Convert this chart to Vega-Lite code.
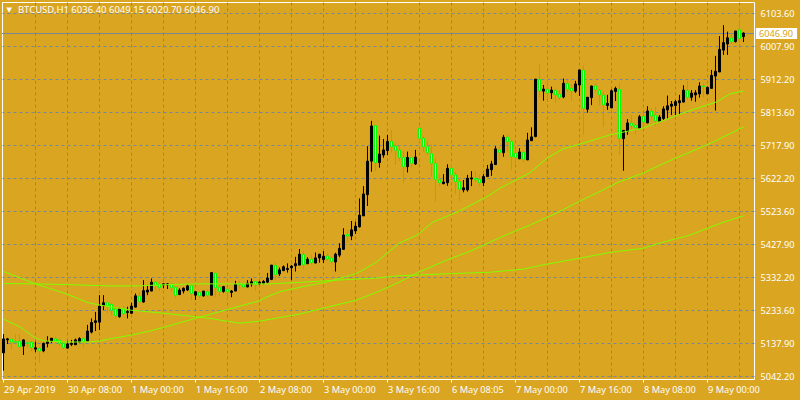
{"$schema":"https://vega.github.io/schema/vega-lite/v6.json","width":752,"height":377,"autosize":"none","padding":{"left":2,"top":2,"right":46,"bottom":21},"background":"#DAA520","view":{"stroke":"#FFFFFF","strokeWidth":1,"fill":"#DAA520"},"config":{"font":"Noto Sans"},
"datasets":{"candles":[
{"i":0,"o":5111,"h":5166,"l":5059,"c":5152},{"i":1,"o":5149,"h":5155,"l":5137,"c":5152},{"i":2,"o":5151,"h":5151,"l":5122,"c":5143},{"i":3,"o":5144,"h":5166,"l":5139,"c":5142},{"i":4,"o":5145,"h":5166,"l":5127,"c":5129},{"i":5,"o":5131,"h":5151,"l":5105,"c":5149},{"i":6,"o":5141,"h":5146,"l":5127,"c":5139},{"i":7,"o":5142,"h":5146,"l":5115,"c":5127},{"i":8,"o":5122,"h":5144,"l":5113,"c":5126},{"i":9,"o":5124,"h":5127,"l":5082,"c":5117},
{"i":10,"o":5117,"h":5141,"l":5113,"c":5139},{"i":11,"o":5139,"h":5160,"l":5127,"c":5144},{"i":12,"o":5146,"h":5154,"l":5140,"c":5154},{"i":13,"o":5152,"h":5158,"l":5142,"c":5146},{"i":14,"o":5148,"h":5151,"l":5131,"c":5139},{"i":15,"o":5139,"h":5144,"l":5122,"c":5127},{"i":16,"o":5125,"h":5146,"l":5125,"c":5137},{"i":17,"o":5136,"h":5149,"l":5131,"c":5139},{"i":18,"o":5135,"h":5153,"l":5135,"c":5149},{"i":19,"o":5143,"h":5157,"l":5141,"c":5153},
{"i":20,"o":5153,"h":5157,"l":5127,"c":5144},{"i":21,"o":5146,"h":5193,"l":5146,"c":5175},{"i":22,"o":5172,"h":5212,"l":5168,"c":5200},{"i":23,"o":5200,"h":5231,"l":5175,"c":5205},{"i":24,"o":5201,"h":5280,"l":5178,"c":5248},{"i":25,"o":5249,"h":5280,"l":5236,"c":5258},{"i":26,"o":5258,"h":5261,"l":5227,"c":5249},{"i":27,"o":5253,"h":5258,"l":5222,"c":5236},{"i":28,"o":5239,"h":5246,"l":5212,"c":5220},{"i":29,"o":5217,"h":5243,"l":5214,"c":5241},
{"i":30,"o":5240,"h":5248,"l":5222,"c":5226},{"i":31,"o":5229,"h":5246,"l":5212,"c":5232},{"i":32,"o":5227,"h":5258,"l":5227,"c":5248},{"i":33,"o":5245,"h":5285,"l":5244,"c":5278},{"i":34,"o":5277,"h":5290,"l":5258,"c":5261},{"i":35,"o":5260,"h":5324,"l":5258,"c":5293},{"i":36,"o":5289,"h":5310,"l":5280,"c":5295},{"i":37,"o":5292,"h":5329,"l":5292,"c":5318},{"i":38,"o":5318,"h":5322,"l":5295,"c":5309},{"i":39,"o":5312,"h":5318,"l":5292,"c":5302},
{"i":40,"o":5310,"h":5315,"l":5300,"c":5313},{"i":41,"o":5310,"h":5315,"l":5298,"c":5313},{"i":42,"o":5312,"h":5315,"l":5290,"c":5302},{"i":43,"o":5303,"h":5305,"l":5271,"c":5280},{"i":44,"o":5282,"h":5300,"l":5280,"c":5295},{"i":45,"o":5292,"h":5303,"l":5285,"c":5300},{"i":46,"o":5295,"h":5312,"l":5292,"c":5307},{"i":47,"o":5308,"h":5312,"l":5266,"c":5285},{"i":48,"o":5280,"h":5290,"l":5266,"c":5290},{"i":49,"o":5288,"h":5290,"l":5271,"c":5278},
{"i":50,"o":5278,"h":5292,"l":5275,"c":5292},{"i":51,"o":5290,"h":5297,"l":5274,"c":5280},{"i":52,"o":5280,"h":5347,"l":5280,"c":5346},{"i":53,"o":5344,"h":5346,"l":5275,"c":5302},{"i":54,"o":5303,"h":5315,"l":5278,"c":5291},{"i":55,"o":5291,"h":5307,"l":5287,"c":5305},{"i":56,"o":5297,"h":5300,"l":5266,"c":5290},{"i":57,"o":5288,"h":5295,"l":5274,"c":5292},{"i":58,"o":5292,"h":5322,"l":5292,"c":5311},{"i":59,"o":5313,"h":5321,"l":5300,"c":5311},
{"i":60,"o":5311,"h":5315,"l":5302,"c":5304},{"i":61,"o":5304,"h":5324,"l":5303,"c":5315},{"i":62,"o":5313,"h":5329,"l":5305,"c":5319},{"i":63,"o":5320,"h":5322,"l":5292,"c":5311},{"i":64,"o":5313,"h":5321,"l":5310,"c":5318},{"i":65,"o":5315,"h":5324,"l":5312,"c":5320},{"i":66,"o":5318,"h":5345,"l":5315,"c":5330},{"i":67,"o":5326,"h":5368,"l":5324,"c":5368},{"i":68,"o":5367,"h":5376,"l":5324,"c":5340},{"i":69,"o":5342,"h":5361,"l":5336,"c":5354},
{"i":70,"o":5352,"h":5367,"l":5350,"c":5363},{"i":71,"o":5355,"h":5373,"l":5346,"c":5358},{"i":72,"o":5360,"h":5368,"l":5324,"c":5365},{"i":73,"o":5366,"h":5392,"l":5349,"c":5372},{"i":74,"o":5368,"h":5415,"l":5368,"c":5400},{"i":75,"o":5399,"h":5410,"l":5356,"c":5369},{"i":76,"o":5372,"h":5391,"l":5371,"c":5385},{"i":77,"o":5385,"h":5397,"l":5371,"c":5375},{"i":78,"o":5374,"h":5405,"l":5373,"c":5389},{"i":79,"o":5389,"h":5400,"l":5375,"c":5400},
{"i":80,"o":5384,"h":5409,"l":5374,"c":5394},{"i":81,"o":5394,"h":5402,"l":5380,"c":5386},{"i":82,"o":5388,"h":5394,"l":5373,"c":5379},{"i":83,"o":5377,"h":5404,"l":5349,"c":5400},{"i":84,"o":5397,"h":5432,"l":5391,"c":5417},{"i":85,"o":5414,"h":5476,"l":5412,"c":5456},{"i":86,"o":5458,"h":5471,"l":5433,"c":5453},{"i":87,"o":5453,"h":5497,"l":5441,"c":5471},{"i":88,"o":5468,"h":5495,"l":5459,"c":5482},{"i":89,"o":5480,"h":5563,"l":5478,"c":5514},
{"i":90,"o":5512,"h":5599,"l":5512,"c":5576},{"i":91,"o":5574,"h":5716,"l":5541,"c":5672},{"i":92,"o":5672,"h":5790,"l":5641,"c":5775},{"i":93,"o":5776,"h":5778,"l":5643,"c":5668},{"i":94,"o":5668,"h":5747,"l":5653,"c":5693},{"i":95,"o":5690,"h":5737,"l":5682,"c":5705},{"i":96,"o":5703,"h":5749,"l":5690,"c":5730},{"i":97,"o":5730,"h":5763,"l":5697,"c":5714},{"i":98,"o":5716,"h":5726,"l":5661,"c":5704},{"i":99,"o":5704,"h":5719,"l":5672,"c":5683},
{"i":100,"o":5683,"h":5700,"l":5607,"c":5656},{"i":101,"o":5656,"h":5700,"l":5639,"c":5683},{"i":102,"o":5682,"h":5684,"l":5653,"c":5666},{"i":103,"o":5664,"h":5705,"l":5661,"c":5684},{"i":104,"o":5768,"h":5773,"l":5727,"c":5739},{"i":105,"o":5739,"h":5746,"l":5700,"c":5714},{"i":106,"o":5714,"h":5732,"l":5690,"c":5697},{"i":107,"o":5694,"h":5721,"l":5627,"c":5666},{"i":108,"o":5665,"h":5680,"l":5553,"c":5619},{"i":109,"o":5617,"h":5634,"l":5599,"c":5609},
{"i":110,"o":5606,"h":5634,"l":5605,"c":5611},{"i":111,"o":5609,"h":5663,"l":5600,"c":5651},{"i":112,"o":5651,"h":5661,"l":5617,"c":5632},{"i":113,"o":5632,"h":5641,"l":5576,"c":5612},{"i":114,"o":5612,"h":5622,"l":5555,"c":5590},{"i":115,"o":5588,"h":5617,"l":5581,"c":5594},{"i":116,"o":5588,"h":5632,"l":5583,"c":5622},{"i":117,"o":5620,"h":5643,"l":5599,"c":5623},{"i":118,"o":5622,"h":5641,"l":5612,"c":5618},{"i":119,"o":5619,"h":5632,"l":5599,"c":5609},
{"i":120,"o":5609,"h":5634,"l":5599,"c":5627},{"i":121,"o":5627,"h":5661,"l":5627,"c":5649},{"i":122,"o":5647,"h":5673,"l":5629,"c":5664},{"i":123,"o":5662,"h":5716,"l":5661,"c":5708},{"i":124,"o":5705,"h":5714,"l":5675,"c":5698},{"i":125,"o":5697,"h":5749,"l":5685,"c":5742},{"i":126,"o":5742,"h":5749,"l":5700,"c":5729},{"i":127,"o":5729,"h":5734,"l":5646,"c":5685},{"i":128,"o":5695,"h":5705,"l":5666,"c":5683},{"i":129,"o":5679,"h":5710,"l":5678,"c":5699},
{"i":130,"o":5698,"h":5700,"l":5668,"c":5678},{"i":131,"o":5676,"h":5755,"l":5675,"c":5734},{"i":132,"o":5732,"h":5771,"l":5732,"c":5743},{"i":133,"o":5744,"h":5912,"l":5742,"c":5912},{"i":134,"o":5911,"h":5956,"l":5858,"c":5878},{"i":135,"o":5877,"h":5895,"l":5849,"c":5883},{"i":136,"o":5882,"h":5910,"l":5857,"c":5872},{"i":137,"o":5872,"h":5890,"l":5854,"c":5880},{"i":138,"o":5879,"h":5885,"l":5843,"c":5866},{"i":139,"o":5868,"h":5880,"l":5851,"c":5859},
{"i":140,"o":5860,"h":5914,"l":5856,"c":5900},{"i":141,"o":5899,"h":5910,"l":5875,"c":5883},{"i":142,"o":5885,"h":5895,"l":5848,"c":5878},{"i":143,"o":5877,"h":5907,"l":5872,"c":5898},{"i":144,"o":5895,"h":5939,"l":5863,"c":5939},{"i":145,"o":5938,"h":5953,"l":5749,"c":5827},{"i":146,"o":5824,"h":5859,"l":5814,"c":5859},{"i":147,"o":5858,"h":5893,"l":5836,"c":5892},{"i":148,"o":5892,"h":5900,"l":5872,"c":5882},{"i":149,"o":5879,"h":5883,"l":5836,"c":5866},
{"i":150,"o":5865,"h":5875,"l":5773,"c":5837},{"i":151,"o":5835,"h":5866,"l":5822,"c":5841},{"i":152,"o":5828,"h":5882,"l":5828,"c":5878},{"i":153,"o":5876,"h":5890,"l":5848,"c":5885},{"i":154,"o":5882,"h":5900,"l":5690,"c":5739},{"i":155,"o":5738,"h":5763,"l":5644,"c":5762},{"i":156,"o":5759,"h":5795,"l":5749,"c":5784},{"i":157,"o":5783,"h":5807,"l":5768,"c":5776},{"i":158,"o":5777,"h":5783,"l":5751,"c":5770},{"i":159,"o":5768,"h":5807,"l":5768,"c":5802},
{"i":160,"o":5803,"h":5812,"l":5768,"c":5787},{"i":161,"o":5784,"h":5833,"l":5783,"c":5819},{"i":162,"o":5818,"h":5828,"l":5792,"c":5804},{"i":163,"o":5806,"h":5831,"l":5775,"c":5790},{"i":164,"o":5789,"h":5807,"l":5788,"c":5801},{"i":165,"o":5797,"h":5833,"l":5792,"c":5825},{"i":166,"o":5822,"h":5864,"l":5797,"c":5834},{"i":167,"o":5833,"h":5848,"l":5807,"c":5839},{"i":168,"o":5835,"h":5851,"l":5807,"c":5846},{"i":169,"o":5843,"h":5866,"l":5807,"c":5849},
{"i":170,"o":5845,"h":5894,"l":5844,"c":5880},{"i":171,"o":5879,"h":5907,"l":5851,"c":5859},{"i":172,"o":5859,"h":5880,"l":5849,"c":5871},{"i":173,"o":5866,"h":5880,"l":5846,"c":5872},{"i":174,"o":5869,"h":5903,"l":5858,"c":5892},{"i":175,"o":5892,"h":5900,"l":5859,"c":5890},{"i":176,"o":5869,"h":5890,"l":5869,"c":5888},{"i":177,"o":5885,"h":5939,"l":5885,"c":5923},{"i":178,"o":5921,"h":5980,"l":5820,"c":5935},{"i":179,"o":5933,"h":6038,"l":5933,"c":5999},
{"i":180,"o":5997,"h":6070,"l":5983,"c":6019},{"i":181,"o":6015,"h":6051,"l":5983,"c":6033},{"i":182,"o":6032,"h":6046,"l":6015,"c":6022},{"i":183,"o":6022,"h":6053,"l":6019,"c":6053},{"i":184,"o":6056,"h":6085,"l":6022,"c":6031},{"i":185,"o":6036.4,"h":6049.15,"l":6020.7,"c":6046.9}],
"lines":[
{"s":"a","i":0,"p":5314},{"s":"a","i":8,"p":5313},{"s":"a","i":15.6,"p":5311},{"s":"a","i":26.6,"p":5307},{"s":"a","i":33.4,"p":5307},{"s":"a","i":41.6,"p":5311},{"s":"a","i":48.4,"p":5313},{"s":"a","i":66.6,"p":5313},{"s":"a","i":74.9,"p":5318},{"s":"a","i":83.4,"p":5324},{"s":"a","i":93.4,"p":5330},{"s":"a","i":99.1,"p":5337},{"s":"a","i":109.9,"p":5342},{"s":"a","i":119.1,"p":5346},{"s":"a","i":121.6,"p":5347},{"s":"a","i":129.9,"p":5356},{"s":"a","i":135.9,"p":5371},{"s":"a","i":144.1,"p":5388},{"s":"a","i":151.6,"p":5405},{"s":"a","i":159.9,"p":5417},{"s":"a","i":163.4,"p":5430},{"s":"a","i":171.6,"p":5456},{"s":"a","i":179.9,"p":5493},{"s":"a","i":185,"p":5512},
{"s":"b","i":0,"p":5349},{"s":"b","i":8,"p":5313},{"s":"b","i":15.9,"p":5283},{"s":"b","i":21.1,"p":5258},{"s":"b","i":24.1,"p":5251},{"s":"b","i":31.9,"p":5236},{"s":"b","i":36.6,"p":5231},{"s":"b","i":44.1,"p":5222},{"s":"b","i":51.6,"p":5212},{"s":"b","i":59.1,"p":5198},{"s":"b","i":64.1,"p":5204},{"s":"b","i":74.1,"p":5225},{"s":"b","i":88.4,"p":5266},{"s":"b","i":93.4,"p":5289},{"s":"b","i":99.1,"p":5319},{"s":"b","i":103.4,"p":5345},{"s":"b","i":110.9,"p":5383},{"s":"b","i":117.4,"p":5412},{"s":"b","i":121.6,"p":5435},{"s":"b","i":126.6,"p":5461},{"s":"b","i":131.6,"p":5485},{"s":"b","i":138.4,"p":5521},{"s":"b","i":144.1,"p":5555},{"s":"b","i":149.9,"p":5588},{"s":"b","i":153.4,"p":5609},{"s":"b","i":159.9,"p":5637},{"s":"b","i":165.9,"p":5670},{"s":"b","i":174.1,"p":5711},{"s":"b","i":177.4,"p":5728},{"s":"b","i":185,"p":5772},
{"s":"c","i":0,"p":5210},{"s":"c","i":4.1,"p":5187},{"s":"c","i":7.9,"p":5155},{"s":"c","i":10.1,"p":5146},{"s":"c","i":15.9,"p":5143},{"s":"c","i":21.6,"p":5143},{"s":"c","i":24.1,"p":5146},{"s":"c","i":26.6,"p":5152},{"s":"c","i":31.9,"p":5163},{"s":"c","i":36.6,"p":5175},{"s":"c","i":40.4,"p":5187},{"s":"c","i":47.9,"p":5212},{"s":"c","i":52.9,"p":5228},{"s":"c","i":59.1,"p":5248},{"s":"c","i":63.9,"p":5263},{"s":"c","i":65.9,"p":5275},{"s":"c","i":69.1,"p":5290},{"s":"c","i":74.9,"p":5305},{"s":"c","i":81.1,"p":5319},{"s":"c","i":87.9,"p":5342},{"s":"c","i":89.9,"p":5354},{"s":"c","i":93.4,"p":5378},{"s":"c","i":95.9,"p":5403},{"s":"c","i":99.1,"p":5433},{"s":"c","i":103.4,"p":5456},{"s":"c","i":107.4,"p":5494},{"s":"c","i":113.4,"p":5523},{"s":"c","i":117.4,"p":5547},{"s":"c","i":121.6,"p":5573},{"s":"c","i":124.1,"p":5593},{"s":"c","i":131.6,"p":5638},{"s":"c","i":135.9,"p":5681},{"s":"c","i":139.9,"p":5708},{"s":"c","i":144.1,"p":5722},{"s":"c","i":151.6,"p":5749},{"s":"c","i":159.9,"p":5769},{"s":"c","i":165.9,"p":5795},{"s":"c","i":170.9,"p":5817},{"s":"c","i":178.4,"p":5846},{"s":"c","i":181.6,"p":5869},{"s":"c","i":185,"p":5877}]},
"encoding":{"x":{"field":"i","type":"quantitative","title":null,"scale":{"domain":[-0.374,187.626],"nice":false,"zero":false,"padding":0},"axis":{"orient":"bottom","tickCount":100,"values":[0,8,16,24,32,40,48,56,64,72,80,88,96,104,112,120,128,136,144,152,160,168,176,184],"labelExpr":"datum.value%16==0?['29 Apr 2019','30 Apr 08:00','1 May 00:00','1 May 16:00','2 May 08:00','3 May 00:00','3 May 16:00','6 May 08:05','7 May 00:00','7 May 16:00','8 May 08:00','9 May 00:00'][datum.value/16]:''","labelAlign":"left","labelBaseline":"top","labelColor":"#FFFFFF","labelFont":"Noto Sans","labelFontSize":9.2,"labelPadding":3,"labelOverlap":false,"labelBound":false,"labelFlush":false,"domain":false,"tickColor":"#FFFFFF","tickSize":3,"tickOpacity":{"condition":{"test":"datum.value%16==0","value":1},"value":0},"grid":true,"gridColor":"#778899","gridDash":[3,3],"gridWidth":1,"gridOpacity":{"condition":{"test":"datum.value==0","value":0},"value":1}}}},
"layer":[
{"data":{"values":[{"i":-0.374,"i2":187.626,"p":6045.5}]},"mark":{"type":"rule","color":"#778899","strokeWidth":1},"encoding":{"x2":{"field":"i2"},"y":{"field":"p","type":"quantitative","title":null,"scale":{"domain":[5034.67,6137.77],"nice":false,"zero":false},"axis":{"orient":"right","title":null,"tickCount":100,"values":[5042.2,5138.76,5235.32,5331.88,5428.44,5525,5621.56,5718.12,5814.68,5911.24,6007.8,6104.36],"labelExpr":"['5042.20','5137.90','5233.60','5332.20','5427.90','5523.60','5622.20','5717.90','5813.60','5912.20','6007.90','6103.60'][round((datum.value-5042.2)/96.56)]","labelColor":"#FFFFFF","labelFont":"Noto Sans","labelFontSize":9.2,"labelPadding":6,"labelOverlap":false,"labelBound":false,"domain":false,"ticks":false,"grid":true,"gridColor":"#778899","gridDash":[3,3],"gridWidth":1}}}},
{"data":{"name":"candles"},"mark":{"type":"rule","strokeWidth":1},"encoding":{"y":{"field":"h","type":"quantitative","title":null,"scale":{"domain":[5034.67,6137.77],"nice":false,"zero":false}},"y2":{"field":"l"},"color":{"condition":{"test":"datum.c>=datum.o","value":"#000000"},"value":"#00FF00"}}},
{"data":{"name":"candles"},"mark":{"type":"bar","orient":"vertical","width":2,"strokeWidth":1},"encoding":{"y":{"field":"o","type":"quantitative","title":null,"scale":{"domain":[5034.67,6137.77],"nice":false,"zero":false}},"y2":{"field":"c"},"fill":{"condition":{"test":"datum.c>=datum.o","value":"#000000"},"value":"#FFFFFF"},"stroke":{"condition":{"test":"datum.c>=datum.o","value":"#000000"},"value":"#00FF00"}}},
{"data":{"name":"lines"},"mark":{"type":"line","color":"#7FFF00","strokeWidth":1,"interpolate":"linear"},"encoding":{"detail":{"field":"s"},"y":{"field":"p","type":"quantitative","title":null,"scale":{"domain":[5034.67,6137.77],"nice":false,"zero":false}}}},
{"data":{"values":[{"i":1.4,"p":6114}]},"mark":{"type":"point","shape":"triangle-down","filled":true,"color":"#FFFFFF","size":34,"opacity":1},"encoding":{"y":{"field":"p","type":"quantitative","title":null,"scale":{"domain":[5034.67,6137.77],"nice":false,"zero":false}}}},
{"data":{"values":[{"i":3.6,"p":6114,"t":"BTCUSD,H1  6036.40 6049.15 6020.70 6046.90"}]},"mark":{"type":"text","align":"left","baseline":"middle","color":"#FFFFFF","font":"Noto Sans","fontSize":9.5},"encoding":{"text":{"field":"t"},"y":{"field":"p","type":"quantitative","title":null,"scale":{"domain":[5034.67,6137.77],"nice":false,"zero":false}}}},
{"data":{"values":[{"i":188.1,"i2":198.4,"p":6061.7,"p2":6029.5}]},"mark":{"type":"rect","color":"#FFFFFF"},"encoding":{"x2":{"field":"i2"},"y":{"field":"p","type":"quantitative","title":null,"scale":{"domain":[5034.67,6137.77],"nice":false,"zero":false}},"y2":{"field":"p2"}}},
{"data":{"values":[{"i":188.9,"p":6045.5,"t":"6046.90"}]},"mark":{"type":"text","align":"left","baseline":"middle","color":"#DAA520","font":"Noto Sans","fontSize":9.2},"encoding":{"text":{"field":"t"},"y":{"field":"p","type":"quantitative","title":null,"scale":{"domain":[5034.67,6137.77],"nice":false,"zero":false}}}}
]}
